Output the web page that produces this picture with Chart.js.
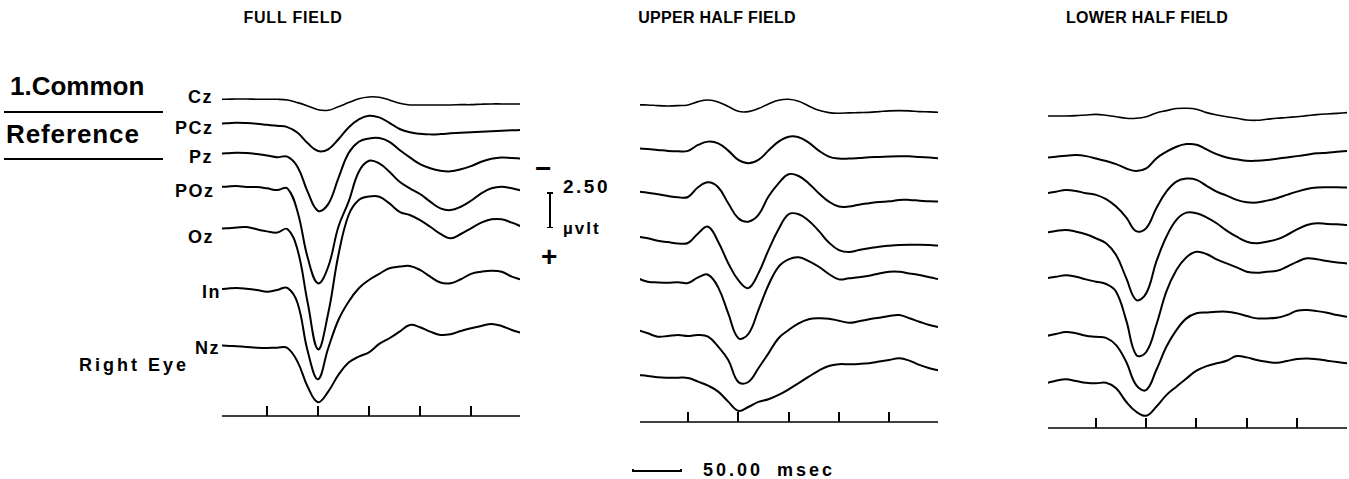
<!DOCTYPE html>
<html>
<head>
<meta charset="utf-8">
<script src="https://cdn.jsdelivr.net/npm/chart.js@4.4.1/dist/chart.umd.min.js"></script>
<style>
html,body{margin:0;padding:0;background:#fff;width:1349px;height:479px;overflow:hidden;position:relative;}
.t{position:absolute;font-family:"Liberation Sans",Arial,Helvetica,sans-serif;font-weight:bold;color:#000;white-space:nowrap;line-height:1;}
.rule{position:absolute;background:#000;}
canvas{position:absolute;}
</style>
</head>
<body>
<!-- Titles -->
<div class="t" style="left:193px;width:200px;text-align:center;top:10px;font-size:16px;letter-spacing:0.8px;">FULL FIELD</div>
<div class="t" style="left:617px;width:200px;text-align:center;top:10px;font-size:16px;letter-spacing:0.3px;">UPPER HALF FIELD</div>
<div class="t" style="left:1047px;width:200px;text-align:center;top:10px;font-size:16px;letter-spacing:0.3px;">LOWER HALF FIELD</div>

<!-- Reference label -->
<div class="t" style="left:10px;top:73px;font-size:26px;">1.Common</div>
<div class="rule" style="left:4px;top:111px;width:159px;height:2px;"></div>
<div class="t" style="left:6px;top:121px;font-size:26px;letter-spacing:0.9px;">Reference</div>
<div class="rule" style="left:4px;top:158px;width:159px;height:2px;"></div>

<!-- Channel labels -->
<div class="t" style="left:188px;top:88px;font-size:18px;letter-spacing:1.5px;">Cz</div>
<div class="t" style="left:175px;top:119px;font-size:18px;letter-spacing:1.5px;">PCz</div>
<div class="t" style="left:189px;top:148px;font-size:18px;letter-spacing:1.5px;">Pz</div>
<div class="t" style="left:175px;top:182px;font-size:18px;letter-spacing:1.5px;">POz</div>
<div class="t" style="left:188px;top:228px;font-size:18px;letter-spacing:1.5px;">Oz</div>
<div class="t" style="left:202px;top:283px;font-size:18px;letter-spacing:1.5px;">In</div>
<div class="t" style="left:195px;top:339px;font-size:18px;letter-spacing:1.5px;">Nz</div>
<div class="t" style="left:79px;top:356px;font-size:18px;letter-spacing:3px;">Right Eye</div>

<!-- Amplitude scale -->
<div class="t" style="left:535px;top:155px;font-size:28px;">&minus;</div>
<div class="t" style="left:563px;top:177px;font-size:19px;letter-spacing:2.5px;">2.50</div>
<div id="ampbar"></div>
<div class="t" style="left:563px;top:220px;font-size:17px;letter-spacing:2px;">µvlt</div>
<div class="t" style="left:541px;top:243px;font-size:28px;">+</div>

<!-- Time scale -->
<div id="timebar"></div>
<div class="t" style="left:703px;top:461px;font-size:18px;letter-spacing:3px;word-spacing:6px;">50.00 msec</div>

<canvas id="c1"></canvas>
<canvas id="c2"></canvas>
<canvas id="c3"></canvas>

<script>
// ---------------- DATA ----------------
// time (ms) of each sample
const times = [0,10,20,30,40,50,60,70,80,90,100,110,120,130,140,150,160,170,180,190,200,210,220,230,240,250,260,270,280,290,300];
// time-axis tick marks (ms)
const tickTimes = [50,100,150,200,250];
const channels = ['Cz','PCz','Pz','POz','Oz','In','Nz'];

// Amplitudes in µV (positive = downward, as in the plot: "−" up, "+" down)
// FULL FIELD
const full_Cz  = [0,0,-0.02,-0.02,0,0,0,0.05,0.23,0.46,0.72,0.76,0.51,0.23,-0.04,-0.16,-0.14,0.05,0.28,0.39,0.39,0.39,0.39,0.39,0.37,0.37,0.34,0.32,0.32,0.32,0.32];
const full_PCz = [0,0,-0.04,-0.02,0.03,0.10,0.17,0.26,0.65,1.38,1.91,1.79,1.10,0.28,-0.28,-0.52,-0.41,-0.04,0.39,0.62,0.72,0.76,0.74,0.69,0.65,0.62,0.58,0.55,0.51,0.48,0.46];
const full_Pz  = [0,0,-0.04,-0.02,0.05,0.14,0.26,0.23,0.94,2.67,3.96,3.50,1.70,-0.02,-0.80,-1.03,-1.06,-0.80,-0.23,0.28,0.74,1.03,1.20,1.24,1.10,0.88,0.58,0.37,0.28,0.32,0.37];
const full_POz = [0,0,-0.05,0.02,0.02,0.11,0.23,0.11,1.74,4.92,6.66,5.52,2.76,1.03,-1.03,-1.79,-1.61,-1.03,-0.34,0.11,0.50,1.03,1.49,1.61,1.38,0.97,0.46,0.11,0,0.11,0.28];
const full_Oz  = [0,0,-0.06,-0.09,0.07,0.21,0.29,0.05,1.50,5.17,8.34,5.86,1.84,-0.92,-1.95,-2.19,-2.18,-1.72,-1.14,-0.92,-0.57,-0.11,0.39,0.69,0.39,0,-0.39,-0.62,-0.62,-0.39,-0.11];
const full_In  = [0,-0.04,-0.09,-0.04,0.05,0.17,0.05,-0.09,0.97,4.30,6.21,4.07,2.12,0.86,-0.07,-0.64,-1.06,-1.45,-1.56,-1.61,-1.33,-0.87,-0.46,-0.41,-0.69,-1.06,-1.21,-1.28,-1.21,-0.87,-0.64];
const full_Nz  = [0,0,0.04,0.09,0.14,0.16,0.14,0.16,1.12,2.85,3.90,3.17,2.02,1.17,0.76,0.46,-0.12,-0.51,-0.97,-1.43,-1.27,-0.97,-0.74,-0.79,-1.01,-1.20,-1.36,-1.50,-1.36,-1.08,-0.86];
// UPPER HALF FIELD
const upper_Cz  = [0,0,0.05,0.07,0.05,0,-0.23,-0.34,-0.21,0.11,0.44,0.46,0.25,-0.07,-0.32,-0.39,-0.25,0.07,0.37,0.53,0.57,0.55,0.53,0.51,0.46,0.41,0.39,0.41,0.46,0.48,0.51];
const upper_PCz = [0,0.05,0.11,0.18,0.21,0.18,-0.23,-0.46,-0.34,0.16,0.80,1.03,0.80,0.16,-0.46,-0.80,-0.76,-0.39,0.16,0.57,0.71,0.71,0.67,0.62,0.60,0.57,0.55,0.55,0.60,0.64,0.69];
const upper_Pz  = [0,0.07,0.18,0.30,0.39,0.37,-0.30,-0.64,-0.30,0.80,1.84,2.07,1.61,0.34,-0.57,-1.20,-1.08,-0.57,0.11,0.69,1.03,1.03,0.90,0.80,0.71,0.67,0.57,0.57,0.62,0.67,0.69];
const upper_POz = [0,0.11,0.28,0.37,0.46,0.43,-0.23,-0.69,0.34,1.83,2.99,3.54,2.52,0.92,-0.51,-1.55,-1.55,-1.10,-0.40,0.40,0.92,1.06,0.92,0.80,0.69,0.62,0.57,0.55,0.55,0.57,0.62];
const upper_Oz  = [0,0.23,0.28,0.30,0.26,0.32,-0.07,-0.25,0.62,2.41,4.12,3.84,2.19,0.46,-0.80,-1.31,-1.45,-1.19,-0.80,-0.30,0.07,0,-0.07,-0.18,-0.34,-0.46,-0.46,-0.34,-0.23,-0.07,0.07];
const upper_In  = [0,0.23,0.46,0.41,0.34,0.41,0.34,0.46,1.15,2.07,3.59,3.59,2.64,1.61,0.57,0,-0.46,-0.74,-0.81,-0.78,-0.64,-0.50,-0.60,-0.74,-0.85,-0.97,-1.03,-0.81,-0.57,-0.34,-0.19];
const upper_Nz  = [0,0.07,0.16,0.19,0.19,0.21,0.46,0.74,1.15,1.84,2.48,2.21,1.86,1.68,1.38,0.99,0.57,0.12,-0.30,-0.62,-0.74,-0.74,-0.76,-0.81,-0.92,-1.03,-1.15,-0.99,-0.69,-0.46,-0.30];
// LOWER HALF FIELD
const lower_Cz  = [0,0,0,-0.02,-0.07,-0.11,-0.05,0.05,0.16,0.16,0.05,-0.21,-0.37,-0.51,-0.53,-0.46,-0.23,-0.07,0.05,0.16,0.28,0.30,0.23,0.16,0.11,0.05,-0.02,-0.09,-0.14,-0.18,-0.23];
const lower_PCz = [0,-0.07,-0.14,-0.18,-0.11,0.05,0.23,0.44,0.74,0.92,0.74,0.05,-0.41,-0.76,-0.94,-0.90,-0.57,-0.25,-0.02,0.11,0.21,0.21,0.16,0.07,-0.02,-0.11,-0.21,-0.30,-0.34,-0.41,-0.46];
const lower_Pz  = [0,-0.11,-0.23,-0.16,0,0.11,0.41,0.92,1.66,2.62,2.40,1.03,-0.11,-0.80,-1.01,-0.92,-0.51,-0.11,0.16,0.46,0.62,0.64,0.51,0.34,0.11,-0.11,-0.30,-0.39,-0.41,-0.41,-0.39];
const lower_POz = [0,-0.12,-0.19,-0.07,0.11,0.39,0.73,1.54,3.12,4.64,4.18,2.00,0.28,-0.88,-1.38,-1.34,-1.06,-0.65,-0.14,0.28,0.62,0.73,0.62,0.46,0.16,-0.23,-0.53,-0.65,-0.60,-0.58,-0.53];
const lower_Oz  = [0,-0.11,-0.21,-0.11,0.07,0.23,0.39,0.92,2.88,5.29,5.08,3.22,0.92,-0.57,-1.45,-1.83,-1.68,-1.31,-1.03,-0.76,-0.46,-0.39,-0.46,-0.52,-0.80,-1.14,-1.38,-1.31,-1.19,-1.10,-1.03];
const lower_In  = [0,-0.14,-0.28,-0.19,-0.02,0.05,0.12,0.62,1.77,3.38,3.72,2.34,0.74,-0.41,-1.22,-1.57,-1.63,-1.68,-1.68,-1.57,-1.38,-1.22,-1.22,-1.26,-1.45,-1.74,-1.79,-1.72,-1.61,-1.45,-1.33];
const lower_Nz  = [0,-0.18,-0.28,-0.16,-0.04,0,-0.04,0.34,1.27,1.96,2.23,1.61,0.81,0.23,-0.34,-0.87,-1.19,-1.38,-1.56,-1.88,-1.79,-1.61,-1.49,-1.42,-1.54,-1.68,-1.72,-1.66,-1.56,-1.47,-1.38];

// ---------------- LAYOUT ----------------
const PX_PER_UV = 14.5;   // vertical gain (2.50 µV bar)
const CHART_TOP = 80;
const PAD = 6;
// display offset of each channel's trace (µV units below chart top)
const full_offsets  = [1.33, 2.99, 5.06, 7.36, 10.23, 14.43, 18.32];
const upper_offsets = [1.72, 4.71, 7.70, 10.81, 13.68, 17.24, 20.34];
const lower_offsets = [2.48, 5.36, 7.81, 10.53, 13.68, 17.66, 20.92];

const panels = [
  {id:'c1', left:222, right:520, bottom:416, tmin:5.9, tmax:298.0, offsets:full_offsets,
   series:[full_Cz,full_PCz,full_Pz,full_POz,full_Oz,full_In,full_Nz]},
  {id:'c2', left:640, right:938, bottom:422, tmin:2.3, tmax:298.5, offsets:upper_offsets,
   series:[upper_Cz,upper_PCz,upper_Pz,upper_POz,upper_Oz,upper_In,upper_Nz]},
  {id:'c3', left:1048, right:1347, bottom:428, tmin:2.2, tmax:299.8, offsets:lower_offsets,
   series:[lower_Cz,lower_PCz,lower_Pz,lower_POz,lower_Oz,lower_In,lower_Nz]}
];

const timeAxisPlugin = {
  id: 'timeAxis',
  afterDatasetsDraw(chart) {
    const {ctx, chartArea: a, scales: {x}} = chart;
    ctx.save();
    ctx.strokeStyle = '#000';
    ctx.lineWidth = 1.5;
    ctx.beginPath();
    ctx.moveTo(a.left, a.bottom);
    ctx.lineTo(a.right, a.bottom);
    ctx.stroke();
    ctx.lineWidth = 2;
    tickTimes.forEach(t => {
      const px = Math.round(x.getPixelForValue(t));
      ctx.beginPath();
      ctx.moveTo(px, a.bottom);
      ctx.lineTo(px, a.bottom - 10);
      ctx.stroke();
    });
    ctx.restore();
  }
};

const charts = panels.map(p => {
  const cv = document.getElementById(p.id);
  const w = p.right - p.left + 2 * PAD;
  const h = p.bottom - CHART_TOP + 2 * PAD;
  cv.width = w; cv.height = h;
  cv.style.left = (p.left - PAD) + 'px';
  cv.style.top = (CHART_TOP - PAD) + 'px';
  cv.style.width = w + 'px'; cv.style.height = h + 'px';
  const datasets = channels.map((ch, i) => ({
    label: ch,
    data: times.map((t, j) => ({x: t, y: p.offsets[i] + p.series[i][j]})),
    borderColor: '#000',
    borderWidth: i === 0 ? 1.6 : 2,
    pointRadius: 0,
    tension: 0.4,
    fill: false
  }));
  return new Chart(cv, {
    type: 'line',
    data: {datasets},
    options: {
      responsive: false,
      animation: false,
      devicePixelRatio: 1,
      layout: {padding: PAD},
      plugins: {legend: {display: false}, tooltip: {enabled: false}},
      scales: {
        x: {type: 'linear', display: false, min: p.tmin, max: p.tmax},
        y: {type: 'linear', display: false, reverse: true, min: 0,
            max: (p.bottom - CHART_TOP) / PX_PER_UV}
      }
    },
    plugins: [timeAxisPlugin]
  });
});

// amplitude calibration bar (2.50 µV)
(function(){
  const bar = document.getElementById('ampbar');
  const hgt = 2.5 * PX_PER_UV;
  bar.style.cssText = 'position:absolute;left:546px;top:192px;width:7px;height:' + hgt + 'px;';
  bar.innerHTML =
    '<div class="rule" style="left:2.5px;top:0;width:2px;height:' + hgt + 'px;"></div>' +
    '<div class="rule" style="left:0.5px;top:0;width:6px;height:1.5px;"></div>' +
    '<div class="rule" style="left:0.5px;top:' + (hgt - 1.5) + 'px;width:6px;height:1.5px;"></div>';
})();

// time calibration bar (50 ms), length from the panel's own time scale
(function(){
  const x = charts[1].scales.x;
  const len = x.getPixelForValue(50) - x.getPixelForValue(0);
  const bar = document.getElementById('timebar');
  bar.style.cssText = 'position:absolute;left:632px;top:470px;width:' + len + 'px;height:1.5px;background:#000;';
  bar.innerHTML =
    '<div class="rule" style="left:0;top:-1px;width:2px;height:3px;"></div>' +
    '<div class="rule" style="right:0;top:-1px;width:2px;height:3px;"></div>';
})();
</script>
</body>
</html>
